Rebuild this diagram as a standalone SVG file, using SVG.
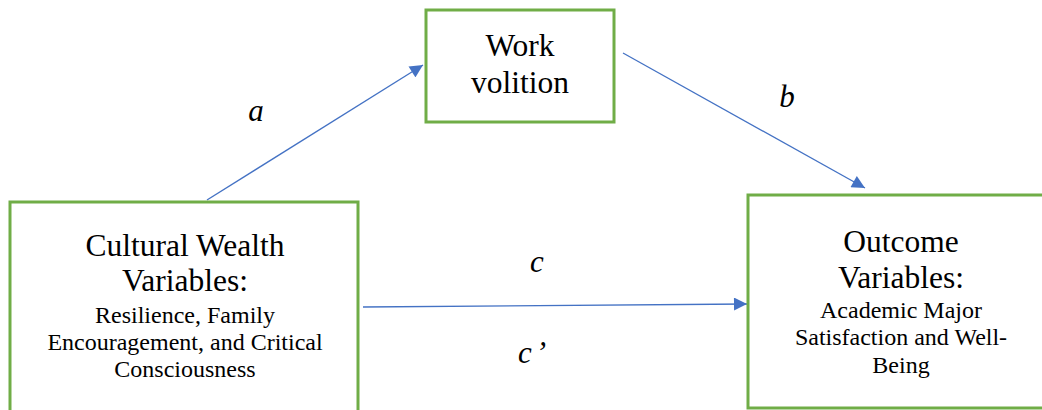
<svg xmlns="http://www.w3.org/2000/svg" width="1042" height="410" viewBox="0 0 1042 410">
<style>
.box{fill:#fff;stroke:#70AD47;stroke-width:3}
.t{font-family:'Liberation Serif','Times New Roman',serif;fill:#000;text-anchor:middle}
.big{font-size:31.5px}
.small{font-size:24px}
.lbl{font-family:'Liberation Serif','Times New Roman',serif;font-style:italic;font-size:31px;fill:#000;text-anchor:middle}
.edge{stroke:#4472C4;stroke-width:1.3;fill:none}
</style>
<defs>
<marker id="ah" viewBox="0 0 10 10" refX="10" refY="5" markerWidth="14" markerHeight="13" markerUnits="userSpaceOnUse" orient="auto">
<path d="M0,0 L10,5 L0,10 z" fill="#4472C4"/>
</marker>
</defs>
<g id="connectors">
<line class="edge" x1="207" y1="200" x2="423" y2="65" marker-end="url(#ah)"/>
<line class="edge" x1="623" y1="53" x2="865" y2="188" marker-end="url(#ah)"/>
<line class="edge" x1="363" y1="307" x2="747" y2="304" marker-end="url(#ah)"/>
<text class="lbl" x="256" y="121">a</text>
<text class="lbl" x="787" y="107">b</text>
<text class="lbl" x="537" y="272">c</text>
<text class="lbl" x="532" y="363">c<tspan dx="4">’</tspan></text>
</g>
<g id="work-volition">
<rect class="box" x="426" y="10" width="188" height="112"/>
<text class="t big" x="520" y="56">Work</text>
<text class="t big" x="520" y="93">volition</text>
</g>
<g id="cultural-wealth">
<rect class="box" x="10" y="202" width="348" height="230"/>
<text class="t big" x="185" y="256">Cultural Wealth</text>
<text class="t big" x="185" y="291">Variables:</text>
<text class="t small" x="185" y="323">Resilience, Family</text>
<text class="t small" x="185" y="350">Encouragement, and Critical</text>
<text class="t small" x="185" y="377">Consciousness</text>
</g>
<g id="outcome">
<rect class="box" x="748" y="195" width="310" height="213"/>
<text class="t big" x="901" y="252">Outcome</text>
<text class="t big" x="901" y="288">Variables:</text>
<text class="t small" x="901" y="318">Academic Major</text>
<text class="t small" x="901" y="345">Satisfaction and Well-</text>
<text class="t small" x="901" y="373">Being</text>
</g>
</svg>
